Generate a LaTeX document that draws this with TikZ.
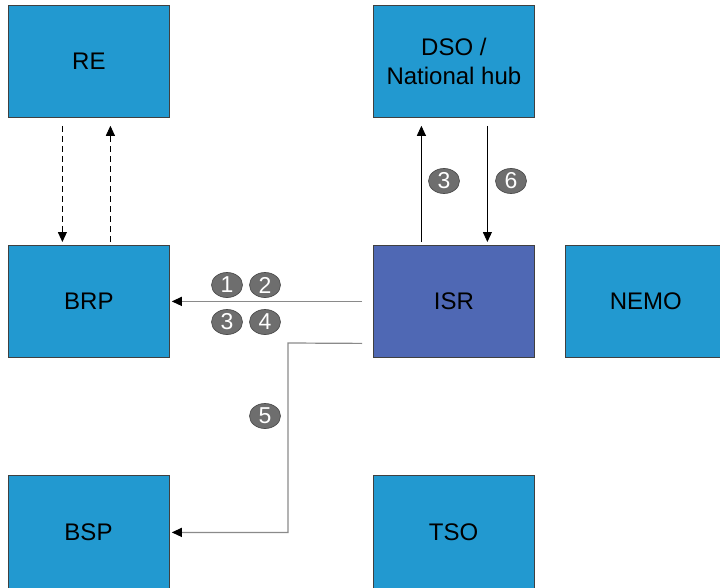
\documentclass[tikz,border=0pt]{standalone}
\usepackage{fontspec}
\setmainfont{Liberation Sans}
\usetikzlibrary{arrows.meta,shapes.geometric}
\definecolor{boxblue}{HTML}{2299D0}
\definecolor{isrblue}{HTML}{4F68B4}
\definecolor{numgray}{HTML}{6E6E6E}
\definecolor{linegray}{HTML}{8A8A8A}
\begin{document}
\begin{tikzpicture}[x=1pt,y=-1pt,
  box/.style={draw=black!75, line width=0.8pt, fill=boxblue, minimum width=161pt,
    minimum height=112pt, inner sep=0pt, anchor=north west, align=center,
    font=\fontsize{24}{29}\selectfont},
  num/.style={ellipse, draw=black!70, line width=0.7pt, fill=numgray, text=white,
    minimum width=31pt, minimum height=25pt, inner sep=0pt,
    font=\fontsize{23}{23}\selectfont},
  tip/.style={-{Triangle[length=10pt,width=9pt,color=black]}},
  grayline/.style={draw=linegray, line width=1.2pt},
  blackline/.style={draw=black, line width=0.9pt}
]
\useasboundingbox (0,0) rectangle (720,588);
\begin{scope}
\clip (0,0) rectangle (720,588);
\node[box] (RE) at (8,5) {RE};
\node[box] (DSO) at (373,5) {DSO /\\National hub};
\node[box] (BRP) at (8,245) {BRP};
\node[box, fill=isrblue] (ISR) at (373,245) {ISR};
\node[box] (NEMO) at (565,245) {NEMO};
\node[box, minimum height=118pt] (BSP) at (8,475) {};
\node[box, minimum height=118pt] (TSO) at (373,475) {};
\end{scope}
\node[font=\fontsize{24}{29}\selectfont] (BSPt) at (88.5,532) {BSP};
\node[font=\fontsize{24}{29}\selectfont] (TSOt) at (453.5,532) {TSO};

% dashed RE <-> BRP
\draw[blackline, dash pattern=on 6pt off 4pt, tip]
  ([xshift=-26.5pt,yshift=-8pt]RE.south) -- ([xshift=-26.5pt,yshift=3pt]BRP.north);
\draw[blackline, dash pattern=on 6pt off 4pt, tip]
  ([xshift=21.5pt,yshift=3pt]BRP.north) -- ([xshift=21.5pt,yshift=-8pt]RE.south);

% ISR <-> DSO
\draw[blackline, tip]
  ([xshift=-32.5pt,yshift=3pt]ISR.north) -- ([xshift=-32.5pt,yshift=-8pt]DSO.south);
\draw[blackline, tip]
  ([xshift=33.5pt,yshift=-8pt]DSO.south) -- ([xshift=33.5pt,yshift=3pt]ISR.north);

% ISR -> BRP
\draw[grayline, tip] ([xshift=-11pt]ISR.west) -- ([xshift=2pt]BRP.east);

% ISR -> BSP
\coordinate (bend) at (288,343);
\draw[grayline, tip] ([xshift=-11pt,yshift=-42pt]ISR.west) -- (bend)
  |- ([xshift=2pt,yshift=2pt]BSP.east);

% number badges
\node[num] (n1) at (227,285) {1};
\node[num] (n2) at (265,285) {2};
\node[num] (n3) at (227,322) {3};
\node[num] (n4) at (265,322) {4};
\node[num] (n5) at (265,416) {5};
\node[num] (n6) at (444,181) {3};
\node[num] (n7) at (511,181) {6};
\end{tikzpicture}
\end{document}
